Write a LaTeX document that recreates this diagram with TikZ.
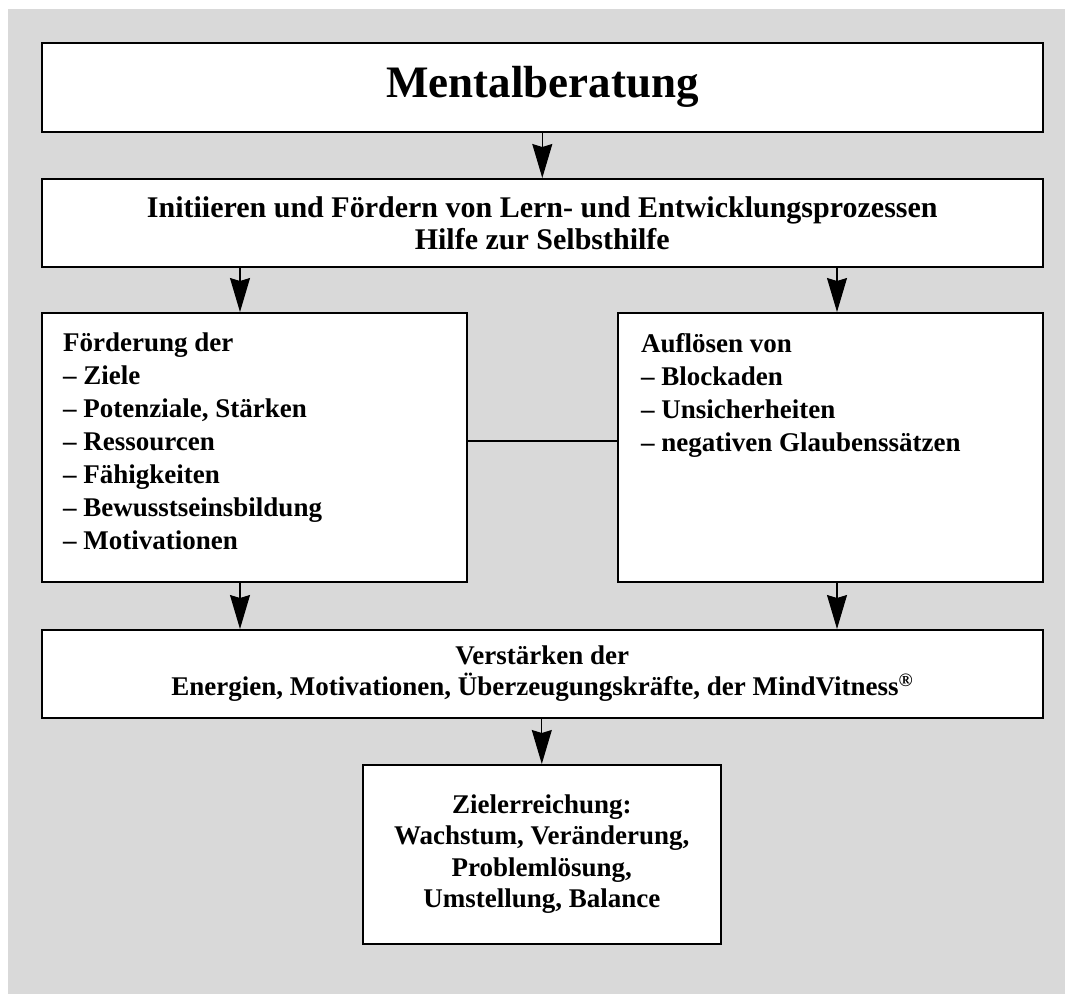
\documentclass[tikz,border=0pt]{standalone}
\usepackage{fontspec}
\setmainfont{Liberation Serif}
\usetikzlibrary{arrows.meta,calc}
\definecolor{bggray}{HTML}{D9D9D9}
\begin{document}
\begin{tikzpicture}[x=1pt,y=-1pt,
  box/.style={draw=black,fill=white,line width=1.6pt,inner sep=0pt,anchor=north west},
  txt/.style={font=\bfseries\fontsize{27}{33}\selectfont,inner sep=0pt},
  arr/.style={line width=1.2pt,-{Stealth[length=34pt,width=20pt,inset=3pt]}},
  lnk/.style={line width=1.2pt}]
\useasboundingbox (0,0) rectangle (1065,994);
\fill[bggray] (8,9) rectangle (1065,994);
% boxes
\node[box,minimum width=1001pt,minimum height=89pt] (M) at (41,42)
  {\bfseries\fontsize{45}{50}\selectfont Mentalberatung};
\node[box,minimum width=1001pt,minimum height=88pt,align=center,txt,
  font=\bfseries\fontsize{30}{32}\selectfont] (I) at (41,178)
  {Initiieren und Fördern von Lern- und Entwicklungsprozessen\\Hilfe zur Selbsthilfe};
\node[box,minimum width=425pt,minimum height=269pt] (L) at (41,312) {};
\node[box,minimum width=425pt,minimum height=269pt] (R) at (617,312) {};
\node[txt,align=left,anchor=north west] (Lt) at (63,333)
  {Förderung der\\– Ziele\\– Potenziale, Stärken\\– Ressourcen\\– Fähigkeiten\\– Bewusstseinsbildung\\– Motivationen};
\node[txt,align=left,anchor=north west] (Rt) at (641,333)
  {Auflösen von\\– Blockaden\\– Unsicherheiten\\– negativen Glaubenssätzen};
\node[box,minimum width=1001pt,minimum height=88pt,align=center,txt,
  font=\bfseries\fontsize{27}{31}\selectfont] (V) at (41,629)
  {Verstärken der\\Energien, Motivationen, Überzeugungskräfte, der MindVitness\textsuperscript{®}};
\node[box,minimum width=358pt,minimum height=179pt,align=center,txt,
  font=\bfseries\fontsize{27}{31.5}\selectfont] (Z) at (362,764)
  {Zielerreichung:\\Wachstum, Veränderung,\\Problemlösung,\\Umstellung, Balance};
% connector positions
\coordinate (xl) at (240,0);
\coordinate (xr) at (837,0);
\coordinate (ym) at (0,441);
% connectors
\draw[arr] (M.south) -- (M.south |- I.north);
\draw[arr] (xl |- I.south) -- (xl |- L.north);
\draw[arr] (xr |- I.south) -- (xr |- R.north);
\draw[lnk] (L.east |- ym) -- (R.west |- ym);
\draw[arr] (xl |- L.south) -- (xl |- V.north);
\draw[arr] (xr |- R.south) -- (xr |- V.north);
\draw[arr] (Z.north |- V.south) -- (Z.north);
\end{tikzpicture}
\end{document}
